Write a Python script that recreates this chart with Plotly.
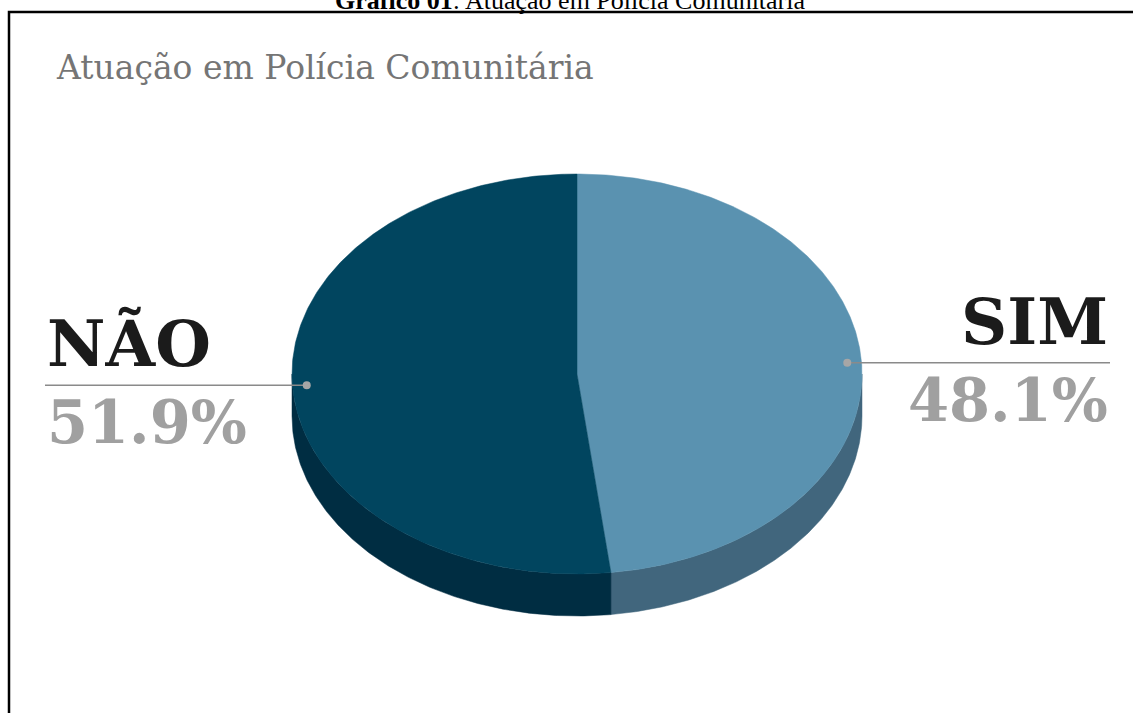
import numpy as np
import plotly.graph_objects as go

# ---------------- data ----------------
categories = ["SIM", "NÃO"]
values = [48.1, 51.9]
top_colors = ["#5a92b0", "#01455f"]
side_colors = ["#41667d", "#002d42"]
chart_title = "Atuação em Polícia Comunitária"
caption = "<b>Gráfico 01</b>: Atuação em Polícia Comunitária"

# ---------------- layout constants ----------------
W, H = 1133, 713
cx, cy, rx, ry, depth = 577, 374, 285, 200, 42
label_font = "DejaVu Serif"

fracs = np.array(values) / np.sum(values)
ends = np.cumsum(fracs) * 360.0
starts = np.concatenate([[0.0], ends[:-1]])


def pt(theta_deg, r=1.0, dy=0.0):
    t = np.radians(theta_deg)
    return cx + r * rx * np.sin(t), cy - r * ry * np.cos(t) + dy


fig = go.Figure()

# side walls (front half only: 90..270 degrees)
for s, e, col in zip(starts, ends, side_colors):
    a, b = max(s, 90.0), min(e, 270.0)
    if b <= a:
        continue
    th = np.linspace(a, b, 200)
    xt, yt = pt(th)
    xb, yb = pt(th[::-1], dy=depth)
    xs = np.concatenate([xt, xb, xt[:1]])
    ys = np.concatenate([yt, yb, yt[:1]])
    fig.add_trace(go.Scatter(x=xs, y=ys, mode="lines", fill="toself",
                             fillcolor=col, line=dict(color=col, width=0.5),
                             hoverinfo="skip", showlegend=False))

# top faces
for s, e, col in zip(starts, ends, top_colors):
    th = np.linspace(s, e, 300)
    xa, ya = pt(th)
    xs = np.concatenate([[cx], xa, [cx]])
    ys = np.concatenate([[cy], ya, [cy]])
    fig.add_trace(go.Scatter(x=xs, y=ys, mode="lines", fill="toself",
                             fillcolor=col, line=dict(color=col, width=0.5),
                             hoverinfo="skip", showlegend=False))

annotations = []
shapes = []
for cat, v, s, e in zip(categories, values, starts, ends):
    mid = (s + e) / 2.0
    dx, dy_ = pt(mid, r=0.95)
    right = np.sin(np.radians(mid)) > 0
    x_end = 1110 if right else 45
    fig.add_trace(go.Scatter(x=[dx, x_end], y=[dy_, dy_], mode="lines",
                             line=dict(color="#8a8a8a", width=1.5),
                             hoverinfo="skip", showlegend=False))
    fig.add_trace(go.Scatter(x=[dx], y=[dy_], mode="markers",
                             marker=dict(color="#a6a6a6", size=8),
                             hoverinfo="skip", showlegend=False))
    anchor = "right" if right else "left"
    annotations.append(dict(x=x_end, y=dy_ - 2, xref="x", yref="y",
                            text=f"<b>{cat}</b>", showarrow=False,
                            xanchor=anchor, yanchor="bottom",
                            font=dict(family=label_font, size=64, color="#1b1b1b")))
    annotations.append(dict(x=x_end, y=dy_ + 1, xref="x", yref="y",
                            text=f"<b>{v:.1f}%</b>", showarrow=False,
                            xanchor=anchor, yanchor="top",
                            font=dict(family=label_font, size=59, color="#a0a0a0")))

# chart title
annotations.append(dict(x=54, y=67, xref="x", yref="y", text=chart_title,
                        showarrow=False, xanchor="left", yanchor="middle",
                        font=dict(family=label_font, size=33, color="#757575")))
# caption (document figure caption, partly above the page edge as in the source)
annotations.append(dict(x=570, y=0, xref="x", yref="y", text=caption,
                        showarrow=False, xanchor="center", yanchor="middle",
                        font=dict(family="Liberation Serif", size=26, color="#000000")))

# frame
shapes.append(dict(type="rect", xref="x", yref="y", x0=9, y0=12, x1=1150, y1=730,
                   line=dict(color="#000000", width=2.5), fillcolor="rgba(0,0,0,0)"))

fig.update_layout(
    width=W, height=H,
    margin=dict(l=0, r=0, t=0, b=0),
    paper_bgcolor="white", plot_bgcolor="white",
    xaxis=dict(range=[0, W], visible=False, fixedrange=True),
    yaxis=dict(range=[H, 0], visible=False, fixedrange=True),
    annotations=annotations, shapes=shapes,
    showlegend=False,
)

fig.write_html("out.html")
